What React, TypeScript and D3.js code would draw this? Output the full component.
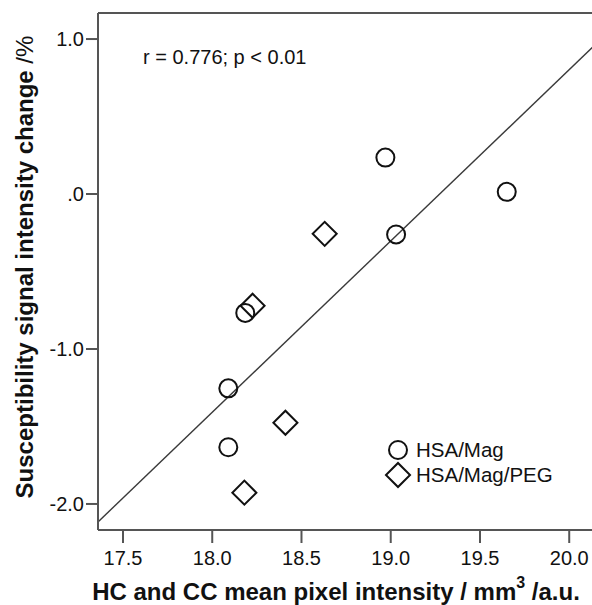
import { useMemo } from "react";
import { scaleLinear, symbol, symbolCircle, symbolSquare, mean, sum } from "d3";

const WIDTH = 592;
const HEIGHT = 605;
const FONT = "'Liberation Sans', Arial, sans-serif";

// HSA/Mag (circles)
const magX = [18.97, 19.65, 19.03, 18.185, 18.09, 18.09];
const magY = [0.235, 0.014, -0.261, -0.767, -1.254, -1.634];
// HSA/Mag/PEG (diamonds)
const pegX = [18.63, 18.226, 18.41, 18.18];
const pegY = [-0.257, -0.721, -1.476, -1.927];

const xTicks = [17.5, 18.0, 18.5, 19.0, 19.5, 20.0];
const yTicks = [1.0, 0.0, -1.0, -2.0];
const yTickLabels = ["1.0", ".0", "-1.0", "-2.0"];
const legendLabels = ["HSA/Mag", "HSA/Mag/PEG"];
const statText = "r = 0.776; p < 0.01";

const plot = { left: 98, top: 13, right: 596, bottom: 530 };

export default function App() {
  const x = useMemo(() => scaleLinear().domain([17.36, 20.15]).range([plot.left, plot.right]), []);
  const y = useMemo(() => scaleLinear().domain([-2.168, 1.168]).range([plot.bottom, plot.top]), []);

  // least-squares fit over all points
  const fit = useMemo(() => {
    const xs = [...magX, ...pegX];
    const ys = [...magY, ...pegY];
    const mx = mean(xs) ?? 0;
    const my = mean(ys) ?? 0;
    const sxy = sum(xs, (v, i) => (v - mx) * (ys[i] - my));
    const sxx = sum(xs, (v) => (v - mx) ** 2);
    const b = sxy / sxx;
    return { a: my - b * mx, b };
  }, []);

  const circlePath = symbol(symbolCircle, Math.PI * 9 * 9)() ?? "";
  const diamondPath = symbol(symbolSquare, 17 * 17)() ?? "";
  const [x0, x1] = x.domain();

  return (
    <svg width={WIDTH} height={HEIGHT} style={{ position: "absolute", left: 0, top: 0, background: "#fff" }} fontFamily={FONT}>
      <rect width={WIDTH} height={HEIGHT} fill="#fff" />
      <defs>
        <clipPath id="plot-clip">
          <rect x={plot.left} y={plot.top} width={plot.right - plot.left} height={plot.bottom - plot.top} />
        </clipPath>
      </defs>

      {/* regression line */}
      <line
        x1={x(x0)} y1={y(fit.a + fit.b * x0)} x2={x(x1)} y2={y(fit.a + fit.b * x1)}
        stroke="#3a3a3a" strokeWidth={1.4} clipPath="url(#plot-clip)"
      />

      {magX.map((v, i) => (
        <path key={`m${i}`} d={circlePath} transform={`translate(${x(v)},${y(magY[i])})`} fill="none" stroke="#111" strokeWidth={2} />
      ))}
      {pegX.map((v, i) => (
        <path key={`p${i}`} d={diamondPath} transform={`translate(${x(v)},${y(pegY[i])}) rotate(45)`} fill="none" stroke="#111" strokeWidth={2} />
      ))}

      {/* frame */}
      <line x1={plot.left} x2={WIDTH} y1={plot.top} y2={plot.top} stroke="#555" strokeWidth={2} />
      <line x1={plot.left} x2={plot.left} y1={plot.top} y2={plot.bottom} stroke="#555" strokeWidth={2} />
      <line x1={plot.left} x2={WIDTH} y1={plot.bottom} y2={plot.bottom} stroke="#555" strokeWidth={2} />

      {xTicks.map((t) => (
        <g key={`xt${t}`} transform={`translate(${x(t)},0)`}>
          <line y1={plot.bottom} y2={plot.bottom + 13} stroke="#555" strokeWidth={2} />
          <text y={565} textAnchor="middle" fontSize={20} fill="#111">{t.toFixed(1)}</text>
        </g>
      ))}
      {yTicks.map((t, i) => (
        <g key={`yt${t}`} transform={`translate(0,${y(t)})`}>
          <line x1={plot.left - 12} x2={plot.left} stroke="#555" strokeWidth={2} />
          <text x={84} dy="0.35em" textAnchor="end" fontSize={20} fill="#111">{yTickLabels[i]}</text>
        </g>
      ))}

      <text x={143} y={64} fontSize={20} fill="#111">{statText}</text>

      {/* legend */}
      {legendLabels.map((label, i) => (
        <g key={label} transform={`translate(398,${450 + i * 25})`}>
          <path d={i === 0 ? circlePath : diamondPath} transform={i === 0 ? "" : "rotate(45)"} fill="none" stroke="#111" strokeWidth={2} />
          <text x={18} dy="0.36em" fontSize={20.5} fill="#111">{label}</text>
        </g>
      ))}

      {/* axis titles */}
      <text x={336} y={600} textAnchor="middle" fontSize={24} fontWeight="bold" fill="#111">
        HC and CC mean pixel intensity / mm<tspan fontSize={16} dy={-12}>3</tspan><tspan dy={12}> /a.u.</tspan>
      </text>
      <text transform="translate(33,267) rotate(-90)" textAnchor="middle" fontSize={24} fill="#111">
        <tspan fontWeight="bold">Susceptibility signal intensity change </tspan>/%
      </text>
    </svg>
  );
}
